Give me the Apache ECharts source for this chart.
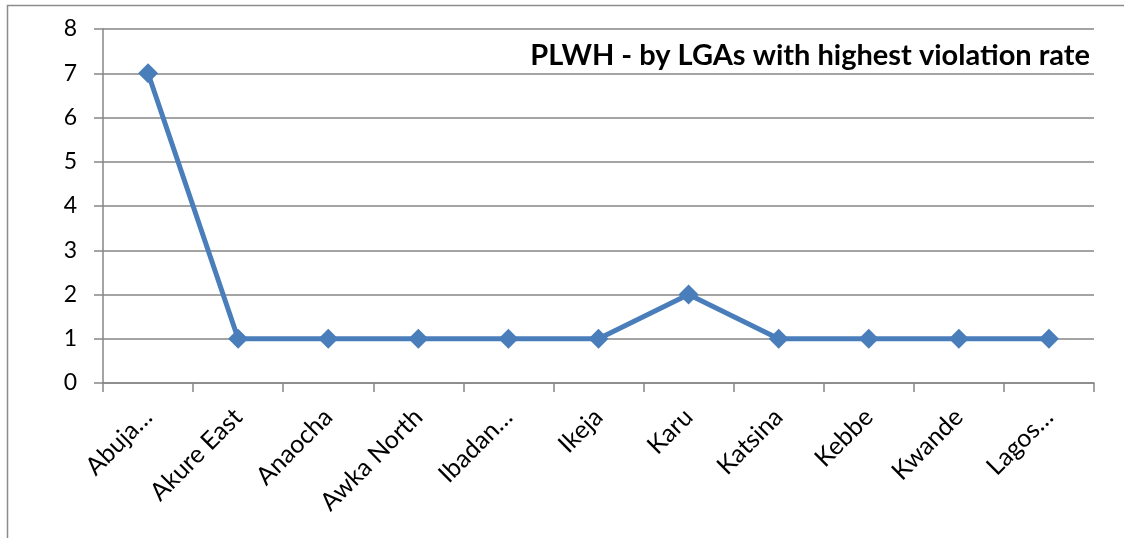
<!DOCTYPE html>
<html><head><meta charset="utf-8">
<script src="https://cdn.jsdelivr.net/npm/echarts@6/dist/echarts.min.js"></script>
<style>html,body{margin:0;padding:0;background:#fff}#c{width:1124px;height:538px}</style>
</head><body><div id="c"></div>
<script>
const categories = ["Abuja…","Akure East","Anaocha","Awka North","Ibadan…","Ikeja","Karu","Katsina","Kebbe","Kwande","Lagos…"];
const values = [7,1,1,1,1,1,2,1,1,1,1];
const yTicks = [0,1,2,3,4,5,6,7,8];
const titleText = "PLWH - by LGAs with highest violation rate";
const font = "Lato, sans-serif";
const chart = echarts.init(document.getElementById('c'));
chart.setOption({
  animation:false,
  graphic:[{type:'rect',shape:{x:7.5,y:5.5,width:1130,height:560},style:{fill:'none',stroke:'#8c8c8c',lineWidth:1.5},silent:true}],
  title:{text:titleText,right:29,top:36,textStyle:{fontFamily:font,fontWeight:'bold',fontSize:29,color:'#000'}},
  grid:{left:103,right:30,top:29,bottom:155},
  xAxis:{type:'category',data:categories,boundaryGap:true,
    axisLine:{lineStyle:{color:'#868686',width:1.5}},
    axisTick:{show:true,length:9,lineStyle:{color:'#868686',width:1.5}},
    axisLabel:{rotate:45,fontFamily:font,fontSize:25,color:'#000',margin:30,interval:0}},
  yAxis:{type:'value',min:yTicks[0],max:yTicks[yTicks.length-1],interval:1,
    axisLine:{show:true,lineStyle:{color:'#868686',width:1.5}},
    axisTick:{show:true,length:9,lineStyle:{color:'#868686',width:1.5}},
    splitLine:{lineStyle:{color:'#868686',width:1.5}},
    axisLabel:{fontFamily:font,fontSize:23,color:'#000',margin:26}},
  series:[{type:'line',data:values,symbol:'diamond',symbolSize:20,
    lineStyle:{color:'#4a7ebb',width:5},itemStyle:{color:'#4a7ebb'}}]
});
</script></body></html>
